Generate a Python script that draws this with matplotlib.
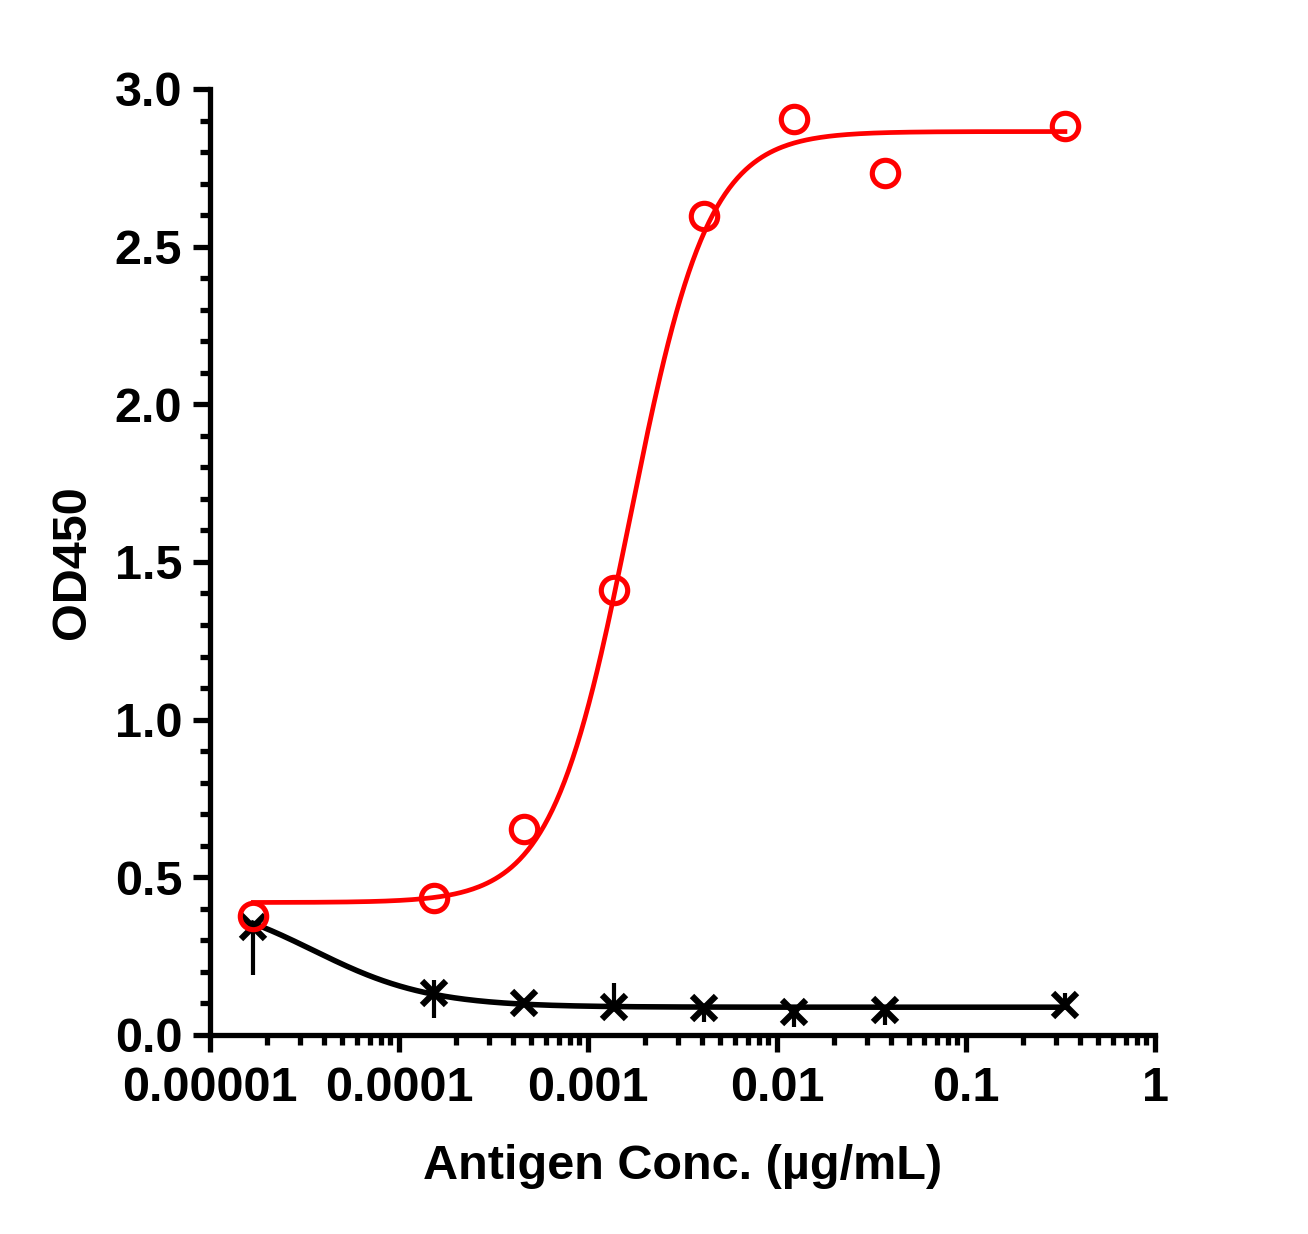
import numpy as np
import matplotlib.pyplot as plt
from matplotlib.ticker import FixedLocator, LogLocator, MultipleLocator, NullFormatter

# --- data ---
conc = [1/59049, 1/6561, 1/2187, 1/729, 1/243, 1/81, 1/27, 1/3]   # µg/mL
od_red = [0.377, 0.434, 0.653, 1.411, 2.597, 2.905, 2.734, 2.883]
od_black = [0.343, 0.134, 0.100, 0.090, 0.085, 0.074, 0.080, 0.095]
err_black_low = [0.153, 0.080, 0.0, 0.0, 0.045, 0.050, 0.050, 0.0]
err_black_up = [0.0, 0.040, 0.0, 0.075, 0.0, 0.0, 0.0, 0.038]

# 4PL fit parameters (value at low conc, value at high conc, EC50, hill)
fit_red = (0.42, 2.865, 1.67e-3, 2.1)
fit_black = (0.45, 0.088, 3.5e-5, 1.4)

x_ticks = [1e-5, 1e-4, 1e-3, 1e-2, 1e-1, 1]
x_ticklabels = ["0.00001", "0.0001", "0.001", "0.01", "0.1", "1"]
y_ticks = [0.0, 0.5, 1.0, 1.5, 2.0, 2.5, 3.0]


def four_pl(x, low, high, ec50, hill):
    return low + (high - low) / (1 + (ec50 / x) ** hill)


plt.rcParams['font.family'] = ['Liberation Sans', 'DejaVu Sans']
plt.rcParams['font.weight'] = 'bold'

fig = plt.figure(figsize=(13.08, 12.34), dpi=100)
ax = fig.add_axes([0.1606, 0.1613, 0.7225, 0.7666])

xs = np.logspace(np.log10(conc[0]), np.log10(conc[-1]), 400)

# black series
ax.plot(xs, four_pl(xs, *fit_black), color='black', lw=4, zorder=2)
ax.errorbar(conc, od_black, yerr=[err_black_low, err_black_up], fmt='none',
            ecolor='black', elinewidth=3, capsize=0, zorder=3)
ax.plot(conc, od_black, linestyle='none', marker='x', markersize=17,
        markeredgewidth=4.5, color='black', zorder=4)

# red series
ax.plot(xs, four_pl(xs, *fit_red), color='#ff0000', lw=3.4, zorder=5)
ax.plot(conc, od_red, linestyle='none', marker='o', markersize=19,
        markerfacecolor='none', markeredgecolor='#ff0000',
        markeredgewidth=3.7, zorder=6)

ax.set_xscale('log')
ax.set_xlim(1e-5, 1)
ax.set_ylim(0, 3.0)

ax.xaxis.set_major_locator(FixedLocator(x_ticks))
ax.set_xticklabels(x_ticklabels)
ax.xaxis.set_minor_locator(LogLocator(base=10, subs=np.arange(2, 10), numticks=20))
ax.xaxis.set_minor_formatter(NullFormatter())
ax.yaxis.set_major_locator(FixedLocator(y_ticks))
ax.set_yticklabels([f"{v:.1f}" for v in y_ticks])
ax.yaxis.set_minor_locator(MultipleLocator(0.1))

for side in ['top', 'right']:
    ax.spines[side].set_visible(False)
for side in ['left', 'bottom']:
    ax.spines[side].set_linewidth(3.8)

ax.tick_params(which='major', length=12, width=3.8, labelsize=35, pad=8)
ax.tick_params(which='minor', length=7, width=3.8)
ax.tick_params(axis='x', which='major', pad=10)

ax.set_xlabel('Antigen Conc. (µg/mL)', fontsize=35, fontweight='bold', labelpad=24)
ax.set_ylabel('OD450', fontsize=35, fontweight='bold', labelpad=14)

fig.savefig('out.png', dpi=100)
